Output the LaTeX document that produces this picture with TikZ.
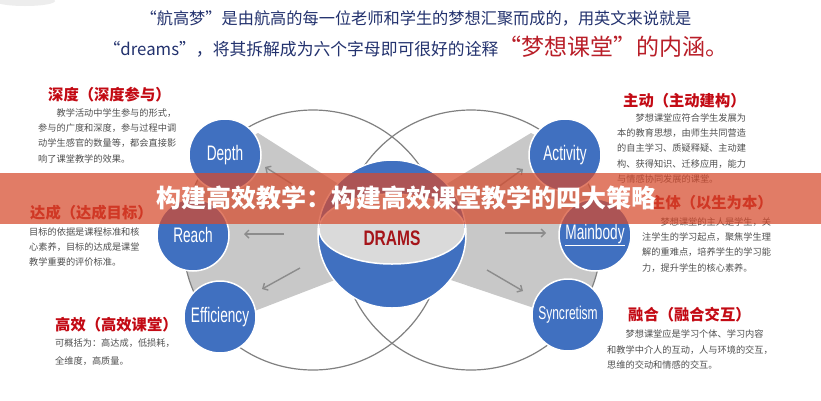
\documentclass[tikz,border=0pt]{standalone}
\usepackage{fontspec}
\newfontfamily\cjk{Noto Sans CJK SC}
\newfontfamily\cond[FakeStretch=0.65]{Liberation Sans}
\newfontfamily\condd[FakeStretch=0.74]{Liberation Sans}
\usetikzlibrary{arrows.meta}
\definecolor{navy}{RGB}{35,50,110}
\definecolor{hred}{RGB}{185,30,40}
\definecolor{titred}{RGB}{195,10,20}
\definecolor{bodygray}{RGB}{80,80,80}
\definecolor{dblue}{RGB}{64,112,192}
\definecolor{regiongray}{RGB}{200,200,200}
\definecolor{lgray}{RGB}{218,218,218}
\definecolor{bigline}{RGB}{128,128,128}
\definecolor{arrgray}{RGB}{140,140,140}
\definecolor{bandc}{RGB}{214,74,44}
\definecolor{dramsred}{RGB}{165,20,25}
\begin{document}
\begin{tikzpicture}[x=1pt,y=-1pt,
  bubble/.style={circle,fill=dblue,draw=white,line width=1.5pt,text=white,inner sep=0pt,minimum size=72pt},
  bigcirc/.style={draw=bigline,line width=1.2pt},
  arr/.style={draw=arrgray,line width=1.4pt,-{Straight Barb[length=4pt,width=8pt]}},
  ttl/.style={font=\cjk\bfseries\fontsize{15.3}{17}\selectfont,text=titred,anchor=west,inner sep=0pt},
  body/.style={font=\cjk\fontsize{9.2}{15.2}\selectfont,text=bodygray,align=left,anchor=north west,inner sep=0pt},
  lbl/.style={font=\cond\fontsize{21}{21}\selectfont}]
\useasboundingbox (0,0) rectangle (821,400);
\fill[white] (0,0) rectangle (821,400);
\fill[black!7] (25,1) ellipse [x radius=30pt, y radius=5pt];

% header
\node[font=\cjk\fontsize{16.2}{18}\selectfont,text=navy,inner sep=0pt] (h1) at (416,18)
  {“航高梦”是由航高的每一位老师和学生的梦想汇聚而成的，用英文来说就是};
\node[font=\cjk\fontsize{16.8}{18}\selectfont,text=navy,inner sep=0pt] (h2) at (416,47)
  {“dreams”，将其拆解成为六个字母即可很好的诠释{\color{hred}\fontsize{23}{24}\selectfont “梦想课堂”的内涵。}};

% gray regions
\begin{scope}
  \clip (313,240) circle [radius=130pt];
  \fill[regiongray] (258,133) -- (340,185) -- (340,278) -- (252,312) -- (220,317) -- (150,330) -- (150,150) -- (225,150) -- cycle;
\end{scope}
\begin{scope}
  \clip (471,240) circle [radius=130pt];
  \fill[regiongray] (531,133) -- (445,185) -- (445,278) -- (540,310) -- (568,315) -- (640,330) -- (640,150) -- (563,150) -- cycle;
\end{scope}

% big circles
\draw[bigcirc] (313,240) circle [radius=130pt];
\draw[bigcirc] (471,240) circle [radius=130pt];

% arrows
\coordinate (a1s) at (292,184); \coordinate (a1e) at (265,167);
\coordinate (a2s) at (284,234); \coordinate (a2e) at (244,234);
\coordinate (a3s) at (300,268); \coordinate (a3e) at (262,289);
\coordinate (b1s) at (494,190); \coordinate (b1e) at (523,169);
\coordinate (b2s) at (505,233); \coordinate (b2e) at (546,233);
\coordinate (b3s) at (487,270); \coordinate (b3e) at (523,291);
\draw[arr] (a1s) -- (a1e);
\draw[arr] (a2s) -- (a2e);
\draw[arr] (a3s) -- (a3e);
\draw[arr] (b1s) -- (b1e);
\draw[arr] (b2s) -- (b2e);
\draw[arr] (b3s) -- (b3e);

% small circles
\node[bubble,lbl] (depth) at (225,155) {Depth};
\node[bubble,lbl] (reach) at (193,235) {Reach};
\node[bubble,lbl] (eff) at (220,317) {Efficiency};
\node[bubble,lbl] (act) at (565,155) {Activity};
\node[bubble,lbl] (main) at (595,235) {\underline{Mainbody}};
\node[bubble,font=\cond\fontsize{18.5}{18.5}\selectfont] (sync) at (568,315) {Syncretism};

% sphere
\node[circle,fill=dblue,draw=white,line width=1.5pt,minimum size=148pt,inner sep=0pt] (sphere) at (392,234) {};
\begin{scope}
  \clip (392,234) circle [radius=73pt];
  \draw[white,line width=1.5pt,fill=lgray] (392,229) ellipse [x radius=73pt, y radius=35pt];
\end{scope}
\node[font=\condd\bfseries\fontsize{21}{21}\selectfont,text=dramsred,inner sep=0pt] (drams) at (392,238) {DRAMS};

% texts left
\node[ttl] (t1) at (48,95) {深度（深度参与）};
\node[body] (b1) at (38,108.5) {\hspace*{2em}教学活动中学生参与的形式，\\参与的广度和深度，参与过程中调\\动学生感官的数量等，都会直接影\\响了课堂教学的效果。};
\node[ttl] (t2) at (30,213) {达成（达成目标）};
\node[body] (b2) at (29,227.5) {目标的依据是课程标准和核\\心素养，目标的达成是课堂\\教学重要的评价标准。};
\node[ttl] (t3) at (55,325) {高效（高效课堂）};
\node[body,font=\cjk\fontsize{9.2}{18.5}\selectfont] (b3) at (55,338.5) {可概括为：高达成，低损耗，\\全维度，高质量。};

% texts right
\node[ttl] (t4) at (623,101) {主动（主动建构）};
\node[body] (b4) at (617,113.5) {\hspace*{2em}梦想课堂应符合学生发展为\\本的教育思想，由师生共同营造\\的自主学习、质疑释疑、主动建\\构、获得知识、迁移应用，能力\\与情感协同发展的课堂。};
\node[ttl] (t5) at (650,203) {主体（以生为本）};
\node[body] (b5) at (642,217.5) {\hspace*{2em}梦想课堂的主人是学生，关\\注学生的学习起点，聚焦学生理\\解的重难点，培养学生的学习能\\力，提升学生的核心素养。};
\node[ttl] (t6) at (628,315) {融合（融合交互）};
\node[body,font=\cjk\fontsize{9.2}{15.5}\selectfont] (b6) at (607,329.5) {\hspace*{2em}梦想课堂应是学习个体、学习内容\\和教学中介人的互动，人与环境的交互，\\思维的交动和情感的交互。};

% band
\fill[bandc,opacity=0.72] (0,173) rectangle (821,224);
\node[font=\cjk\bfseries\fontsize{25}{27}\selectfont,text=white,inner sep=0pt] (band) at (406,198) {构建高效教学：构建高效课堂教学的四大策略};
\end{tikzpicture}
\end{document}
